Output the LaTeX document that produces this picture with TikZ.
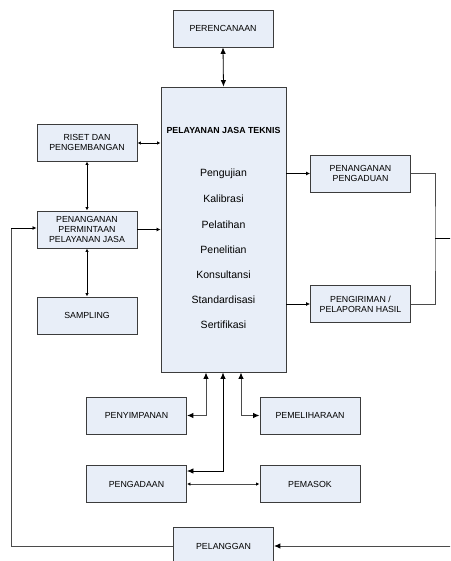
\documentclass[tikz,border=0pt]{standalone}
\usepackage{fontspec}
\setmainfont{Liberation Sans}
\usetikzlibrary{arrows.meta,calc}
\definecolor{boxfill}{RGB}{232,238,248}
\definecolor{boxline}{RGB}{60,60,60}
\definecolor{linegray}{RGB}{75,75,75}
\tikzset{
  unit/.style={draw=boxline, line width=0.9pt, fill=boxfill, minimum width=100pt,
    minimum height=37pt, inner sep=1pt, align=center,
    font=\fontsize{8.8}{10}\selectfont},
  item/.style={font=\fontsize{10.5}{12}\selectfont, inner sep=0pt},
  link/.style={line width=0.8pt, draw=black},
  glink/.style={line width=1pt, draw=linegray},
  big/.style={-{Latex[length=6.5pt,width=5.5pt,color=black]}},
  bigboth/.style={{Latex[length=6.5pt,width=5.5pt,color=black]}-{Latex[length=6.5pt,width=5.5pt,color=black]}},
  small/.style={-{Latex[length=4pt,width=4pt,color=black]}},
  smallboth/.style={{Latex[length=3.5pt,width=3.5pt,color=black]}-{Latex[length=3.5pt,width=3.5pt,color=black]}},
}
\begin{document}
\begin{tikzpicture}[x=1pt,y=-1pt]
\useasboundingbox (0,0) rectangle (450,561);
\clip (0,0) rectangle (450,561);

% central block
\node[unit, minimum width=125pt, minimum height=285pt] (main) at (223.5,229.5) {};
\node[font=\bfseries\fontsize{8.8}{10}\selectfont, inner sep=0pt] (title) at (223.5,130) {PELAYANAN JASA TEKNIS};
\node[item] (i1) at (223.5,174) {Pengujian};
\node[item] (i2) at (223.5,199) {Kalibrasi};
\node[item] (i3) at (223.5,224.5) {Pelatihan};
\node[item] (i4) at (223.5,250) {Penelitian};
\node[item] (i5) at (223.5,275) {Konsultansi};
\node[item] (i6) at (223.5,300) {Standardisasi};
\node[item] (i7) at (223.5,325) {Sertifikasi};

% surrounding units
\node[unit] (plan) at (223,28.5) {PERENCANAAN};
\node[unit] (riset) at (87,142.5) {RISET DAN\\PENGEMBANGAN};
\node[unit] (perm) at (87,229.5) {PENANGANAN\\PERMINTAAN\\PELAYANAN JASA};
\node[unit] (samp) at (87,315.5) {SAMPLING};
\node[unit] (aduan) at (360.5,173.5) {PENANGANAN\\PENGADUAN};
\node[unit] (kirim) at (360.5,304) {PENGIRIMAN /\\PELAPORAN HASIL};
\node[unit] (simpan) at (136.5,415.5) {PENYIMPANAN};
\node[unit] (pelihara) at (310,415.5) {PEMELIHARAAN};
\node[unit] (adaan) at (136.5,484) {PENGADAAN};
\node[unit] (pasok) at (310,484) {PEMASOK};
\node[unit, minimum height=38pt] (cust) at (223.5,546) {PELANGGAN};

% junction of the two outgoing units
\coordinate (join) at (435,238.5);
\coordinate (edge) at (456,238.5);

% connectors
\draw[link, bigboth] (plan.south) -- (main.north);
\draw[link, smallboth] ($(riset.east)+(0,0.5)$) -- ($(main.west |- riset.east)+(0,0.5)$);
\draw[link, smallboth] (riset.south) -- (perm.north);
\draw[link, smallboth] (perm.south) -- (samp.north);
\draw[link, small] (perm.east) -- (main.west |- perm.east);
\draw[link, small] (main.east |- aduan.west) -- (aduan.west);
\draw[link, small] (main.east |- kirim.west) -- (kirim.west);
\draw[glink] (aduan.east) -| (join) |- (kirim.east);
\draw[link] (join) -- (edge);
\draw[glink, big] (edge) |- (cust.east);
\draw[glink] (cust.west) -- ($(cust.west)+(-162,0)$) coordinate (lc);
\draw[glink] (lc) -- ($(lc |- perm.west)+(0,-1.5)$);
\draw[link, small] ($(lc |- perm.west)+(0,-1.5)$) -- ($(perm.west)+(0,-1.5)$);
\draw[glink, bigboth] ($(main.south)+(-17.5,0)$) |- (simpan.east);
\draw[link, bigboth] ($(main.south)+(-0.5,0)$) |- ($(adaan.east)+(0,-13)$);
\draw[glink, bigboth] ($(main.south)+(17.5,0)$) |- (pelihara.west);
\draw[glink, smallboth] (adaan.east) -- (pasok.west);
\end{tikzpicture}
\end{document}
